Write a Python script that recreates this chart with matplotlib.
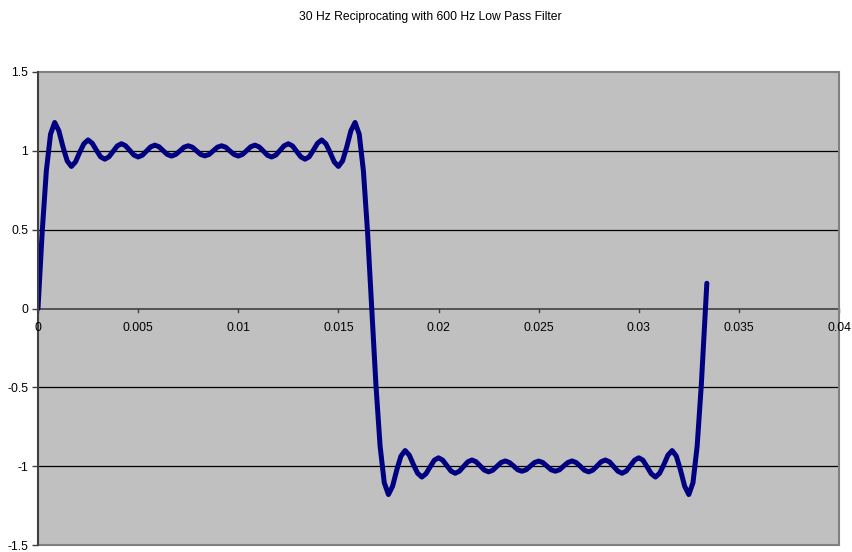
import numpy as np
import matplotlib
matplotlib.use("Agg")
import matplotlib.pyplot as plt
from matplotlib.ticker import FuncFormatter

plt.rcParams['font.family'] = ['Liberation Sans', 'DejaVu Sans']

title = "30 Hz Reciprocating with 600 Hz Low Pass Filter"

# sampling step of the series (seconds) and last sample time
sample_step = 1.0 / 4800.0
last_time = 0.0334

# signal values, one per sample
signal = [
    0.000, 0.483, 0.873, 1.105, 1.180, 1.127, 1.024, 0.936, 0.901, 0.930,
    0.991, 1.045, 1.069, 1.048, 1.004, 0.962, 0.947, 0.962, 0.997, 1.031,
    1.045, 1.032, 1.002, 0.973, 0.961, 0.972, 0.999, 1.025, 1.036, 1.026,
    1.001, 0.977, 0.967, 0.977, 0.999, 1.023, 1.032, 1.023, 1.000, 0.977,
    0.968, 0.977, 1.000, 1.023, 1.032, 1.023, 0.999, 0.977, 0.967, 0.977,
    1.001, 1.026, 1.036, 1.025, 0.999, 0.972, 0.961, 0.973, 1.002, 1.032,
    1.045, 1.031, 0.997, 0.962, 0.947, 0.962, 1.004, 1.048, 1.069, 1.045,
    0.991, 0.930, 0.901, 0.936, 1.024, 1.127, 1.180, 1.105, 0.873, 0.483,
    0.000, -0.483, -0.873, -1.105, -1.180, -1.127, -1.024, -0.936, -0.901, -0.930,
    -0.991, -1.045, -1.069, -1.048, -1.004, -0.962, -0.947, -0.962, -0.997, -1.031,
    -1.045, -1.032, -1.002, -0.973, -0.961, -0.972, -0.999, -1.025, -1.036, -1.026,
    -1.001, -0.977, -0.967, -0.977, -0.999, -1.023, -1.032, -1.023, -1.000, -0.977,
    -0.968, -0.977, -1.000, -1.023, -1.032, -1.023, -0.999, -0.977, -0.967, -0.977,
    -1.001, -1.026, -1.036, -1.025, -0.999, -0.972, -0.961, -0.973, -1.002, -1.032,
    -1.045, -1.031, -0.997, -0.962, -0.947, -0.962, -1.004, -1.048, -1.069, -1.045,
    -0.991, -0.930, -0.901, -0.936, -1.024, -1.127, -1.180, -1.105, -0.873, -0.483,
    0.000, 0.160,
]

x_ticks = [0, 0.005, 0.01, 0.015, 0.02, 0.025, 0.03, 0.035, 0.04]
y_ticks = [-1.5, -1, -0.5, 0, 0.5, 1, 1.5]

times = list(np.arange(len(signal) - 1) * sample_step) + [last_time]

fig = plt.figure(figsize=(8.52, 5.52), dpi=100)
ax = fig.add_axes([38 / 852, 7 / 552, 801 / 852, 473 / 552])
ax.set_facecolor('#C0C0C0')

for yv in [-1, -0.5, 0.5, 1]:
    ax.axhline(yv, color='black', lw=0.9, zorder=1)

ax.plot(times, signal, color='#000080', lw=3.6, zorder=3,
        solid_joinstyle='round', solid_capstyle='round')

ax.set_xlim(0, 0.04)
ax.set_ylim(-1.5, 1.5)

# spines
for s in ['top', 'right', 'bottom']:
    ax.spines[s].set_color('#808080')
    ax.spines[s].set_linewidth(1.5)
ax.spines['left'].set_color('#404040')
ax.spines['left'].set_linewidth(1.5)
ax.spines['left'].set_zorder(4)

# x axis line at y=0
ax.axhline(0, color='#404040', lw=1.2, zorder=2)
ax.set_xticks(x_ticks)
ax.set_yticks(y_ticks)

def fmt(v, pos):
    s = ('%.3f' % v).rstrip('0').rstrip('.')
    return '0' if s in ('-0', '') else s

ax.xaxis.set_major_formatter(FuncFormatter(fmt))
ax.yaxis.set_major_formatter(FuncFormatter(fmt))

ax.tick_params(axis='y', direction='out', length=4, width=1, color='#404040',
               labelsize=8.7, pad=3)
ax.tick_params(axis='x', length=0, labelbottom=False)
for xv in x_ticks:
    ax.text(xv, -0.085, fmt(xv, None), ha='center', va='top', fontsize=8.7,
            zorder=5)
    ax.plot([xv, xv], [-0.025, 0.0], color='#404040', lw=1, zorder=2,
            clip_on=False)

fig.text(0.505, 0.969, title, ha='center', va='center', fontsize=8.7)

fig.savefig('out.png', dpi=100)
